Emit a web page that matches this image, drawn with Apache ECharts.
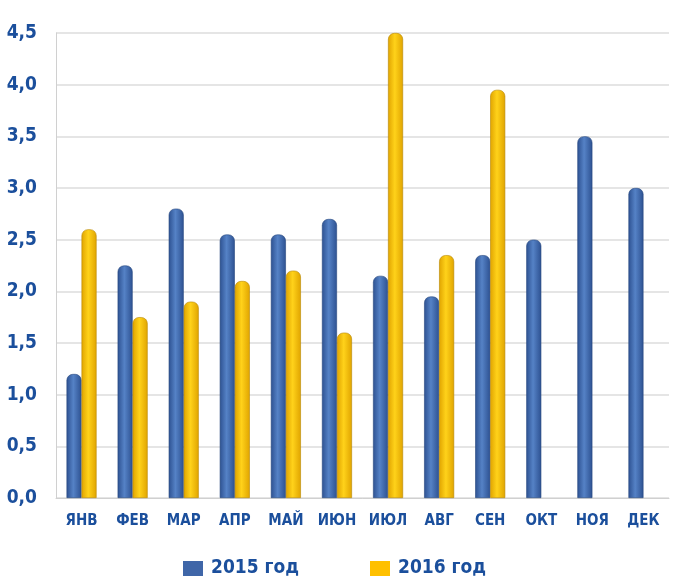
<!DOCTYPE html>
<html><head><meta charset="utf-8">
<script src="https://cdn.jsdelivr.net/npm/echarts@6/dist/echarts.min.js"></script>
<style>html,body{margin:0;padding:0;background:#fff}#c{width:677px;height:581px}</style>
</head><body><div id="c"></div>
<script>
var categories = ['ЯНВ','ФЕВ','МАР','АПР','МАЙ','ИЮН','ИЮЛ','АВГ','СЕН','ОКТ','НОЯ','ДЕК'];
var seriesNames = ['2015 год','2016 год'];
var values2015 = [1.2, 2.25, 2.8, 2.55, 2.55, 2.7, 2.15, 1.95, 2.35, 2.5, 3.5, 3.0];
var values2016 = [2.6, 1.75, 1.9, 2.1, 2.2, 1.6, 4.5, 2.35, 3.95, null, null, null];

var FONT = "'Liberation Sans Narrow','DejaVu Sans Condensed',sans-serif";
var LABEL = '#1b4f9c';
function grad(a,b){return new echarts.graphic.LinearGradient(0,0,1,0,[{offset:0,color:a},{offset:0.45,color:b},{offset:1,color:a}]);}
var chart = echarts.init(document.getElementById('c'));
chart.setOption({
  animation:false,
  grid:{left:56,right:8,top:33,bottom:83},
  legend:{top:554,left:178,itemWidth:20,itemHeight:15,itemGap:71,icon:'rect',
    textStyle:{fontFamily:FONT,fontWeight:'bold',fontSize:19,color:LABEL,padding:[0,0,0,3]},
    data:[{name:seriesNames[0],itemStyle:{color:'#3f66a8',borderWidth:0}},{name:seriesNames[1],itemStyle:{color:'#ffc000',borderWidth:0}}]},
  xAxis:{type:'category',data:categories,
    axisLine:{lineStyle:{color:'#d0d0d0'}},axisTick:{show:false},
    axisLabel:{interval:0,fontFamily:FONT,fontWeight:'bold',fontSize:15,color:LABEL,margin:16}},
  yAxis:{type:'value',min:0,max:4.5,interval:0.5,
    axisLine:{show:true,lineStyle:{color:'#d0d0d0'}},
    splitLine:{lineStyle:{color:'#dcdcdc',width:1.5}},
    axisLabel:{fontFamily:FONT,fontWeight:'bold',fontSize:19,color:LABEL,margin:19,
      formatter:function(v){return v.toFixed(1).replace('.',',');}}},
  series:[
    {name:seriesNames[0],type:'bar',data:values2015,barWidth:15,barGap:'0%',
     itemStyle:{color:grad('#2d5191','#5582c6'),borderColor:'#25467e',borderWidth:0.6,borderRadius:[6,6,0,0]}},
    {name:seriesNames[1],type:'bar',data:values2016,barWidth:15,
     itemStyle:{color:grad('#e0a400','#ffd21a'),borderColor:'#b78700',borderWidth:0.6,borderRadius:[6,6,0,0]}}
  ]
});
</script></body></html>
